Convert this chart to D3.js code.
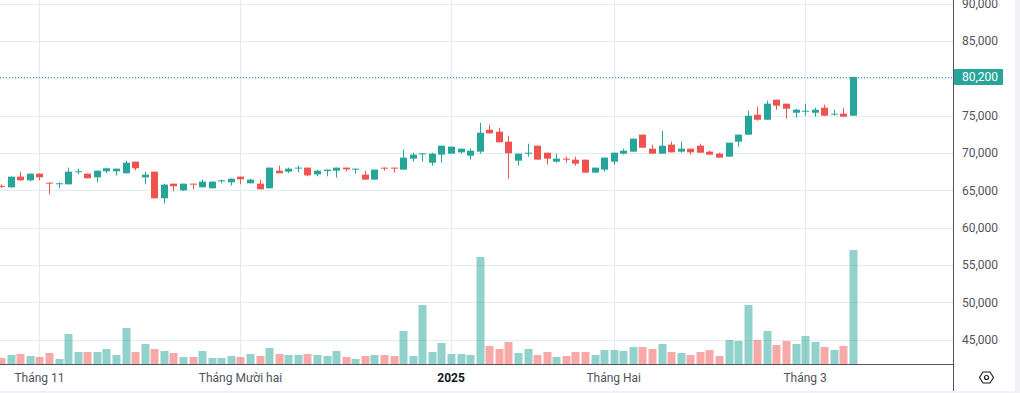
<!DOCTYPE html>
<html lang="vi">
<head>
<meta charset="UTF-8">
<title>Candlestick chart</title>
<script src="https://d3js.org/d3.v7.min.js"></script>
<style>
  html, body { margin: 0; padding: 0; background: #ffffff; }
  svg { display: block; font-family: Roboto, "Noto Sans", sans-serif; }
</style>
</head>
<body>
<script>
// trading days, Oct 28 2024 .. Mar 10 2025
const dates = [
  "2024-10-28","2024-10-29","2024-10-30","2024-10-31",
  "2024-11-01","2024-11-04","2024-11-05","2024-11-06","2024-11-07","2024-11-08",
  "2024-11-11","2024-11-12","2024-11-13","2024-11-14","2024-11-15",
  "2024-11-18","2024-11-19","2024-11-20","2024-11-21","2024-11-22",
  "2024-11-25","2024-11-26","2024-11-27","2024-11-28","2024-11-29",
  "2024-12-02","2024-12-03","2024-12-04","2024-12-05","2024-12-06",
  "2024-12-09","2024-12-10","2024-12-11","2024-12-12","2024-12-13",
  "2024-12-16","2024-12-17","2024-12-18","2024-12-19","2024-12-20",
  "2024-12-23","2024-12-24","2024-12-25","2024-12-26","2024-12-27",
  "2024-12-30","2024-12-31",
  "2025-01-02","2025-01-03","2025-01-06","2025-01-07","2025-01-08","2025-01-09","2025-01-10",
  "2025-01-13","2025-01-14","2025-01-15","2025-01-16","2025-01-17",
  "2025-01-20","2025-01-21","2025-01-22","2025-01-23","2025-01-24",
  "2025-02-03","2025-02-04","2025-02-05","2025-02-06","2025-02-07",
  "2025-02-10","2025-02-11","2025-02-12","2025-02-13","2025-02-14",
  "2025-02-17","2025-02-18","2025-02-19","2025-02-20","2025-02-21",
  "2025-02-24","2025-02-25","2025-02-26","2025-02-27","2025-02-28",
  "2025-03-03","2025-03-04","2025-03-05","2025-03-06","2025-03-07","2025-03-10"
];

const open = [
  65600,65400,66830,66340,67230,66030,65850,65800,67460,67230,
  66740,67550,67550,67280,68840,66740,67500,63930,65890,65000,
  65890,65400,65270,66200,66070,66830,65940,65890,65270,67630,
  67500,67950,68040,67140,67590,67630,68040,67810,67100,66430,
  68040,68040,67770,69240,69820,68700,69780,69910,70090,69640,
  70180,73120,72860,71520,68970,69960,70980,70040,68840,69240,
  69110,69110,67370,67770,68840,69910,70180,72460,70580,69910,
  71120,70180,70580,70980,70180,69910,69510,71520,72460,75130,
  74460,77140,76610,75400,75580,75400,76070,75180,75270,75000
];
const high = [
  65800,66850,67500,67250,67250,66050,66070,68040,67900,67230,
  67630,68040,67900,68970,68840,67500,67500,65890,65890,65890,
  65890,66430,66160,66430,66560,66830,66560,66430,68040,68300,
  68040,68300,68040,67770,67770,68040,68040,67900,67630,67770,
  68040,68040,70450,70040,69960,70040,70980,70850,70580,70580,
  74060,73790,73390,72320,69910,71250,70980,70040,69910,69510,
  69510,69110,68040,69380,70040,70580,71920,72460,71120,72990,
  71520,71520,70580,71250,70310,70040,71380,72460,75670,76200,
  77010,77140,76610,75940,76610,76070,76470,75800,76070,80200
];
const low = [
  65300,65380,66300,66200,66340,64460,65270,65800,67140,66610,
  66070,67320,67000,67280,67680,65800,63930,63260,64870,64910,
  65130,65400,65270,65940,65630,65800,65940,65130,65270,67280,
  67320,67410,66880,66880,66880,66700,67550,67230,66430,66430,
  67630,67370,67770,68840,68840,68300,68700,69910,69910,69110,
  69910,72630,71430,66560,68300,69510,69110,68440,68700,68700,
  68300,67370,67370,67500,68440,69780,70180,70710,69910,69910,
  70090,70040,69780,70040,69780,69380,69510,70850,72460,74330,
  74460,75800,74600,74730,75000,74870,75000,75000,74870,75000
];
const close = [
  65550,66830,66340,67230,66740,65940,65940,67500,67550,66610,
  67630,67950,67900,68700,67950,67100,63930,65760,65540,65890,
  65800,66160,66160,66340,66560,66470,66430,65130,68040,67280,
  67900,68040,67000,67630,67770,68040,67810,67900,66430,67770,
  67900,67950,69380,69780,69960,69910,70980,70850,70580,70310,
  72720,72630,71430,69960,69910,70040,69110,69240,69240,69110,
  68570,67370,68040,69380,70040,70310,71920,70710,69910,70980,
  70090,70580,70090,70040,69780,69380,71380,72460,75000,74460,
  76610,76340,75940,75800,75670,75800,75000,75270,74870,80200
];
// volume, millions of shares
const volume = [
  0.6,0.9,1.0,0.8,0.7,1.1,0.5,3.0,1.2,1.2,
  1.2,1.5,0.9,3.6,1.2,2.0,1.5,1.3,1.1,0.7,
  0.7,1.3,0.6,0.6,0.8,0.7,1.0,0.8,1.6,1.0,
  0.9,0.9,1.0,0.9,0.8,1.3,0.7,0.5,0.8,0.9,
  0.9,0.8,3.3,0.8,5.9,1.2,2.1,1.0,1.0,0.9,
  10.7,1.8,1.5,2.2,1.1,1.5,0.9,1.2,0.7,0.8,
  1.2,1.2,0.9,1.4,1.4,1.3,1.7,1.7,1.5,2.0,
  1.2,1.1,0.9,1.2,1.4,0.8,2.4,2.3,5.9,2.4,
  3.3,1.9,2.3,2.0,2.8,2.2,1.7,1.4,1.8,11.4
];

const priceTicks = [45000,50000,55000,60000,65000,70000,75000,80000,85000,90000];
const monthDates = ["2024-11-01","2024-12-02","2025-01-02","2025-02-03","2025-03-03"];
const monthLabels = ["Tháng 11","Tháng Mười hai","2025","Tháng Hai","Tháng 3"];
const lastPrice = 80200;

const width = 1020, height = 393;
const plotRight = 953, axisY = 364;
const up = "#26a69a", down = "#ef5350";
const textColor = "#50535e", gridColor = "#e4ebf1";

const data = dates.map((d, i) => ({
  date: d, o: open[i], h: high[i], l: low[i], c: close[i], v: volume[i]
}));

const svg = d3.select("body").append("svg")
  .attr("width", width)
  .attr("height", height);

const x = d3.scalePoint().domain(dates).range([1.2, 853]);
const y = d3.scaleLinear().domain([45000, 90000]).range([339.5, 3.8]);
const yVol = d3.scaleLinear().domain([0, 11.4]).range([axisY, 250]);

// outer panel borders
svg.append("rect").attr("x", 1015).attr("y", 0).attr("width", 5).attr("height", height).attr("fill", "#f0f2f5");
svg.append("rect").attr("x", 0).attr("y", 391).attr("width", width).attr("height", 2).attr("fill", "#f0f2f5");

const plot = svg.append("g");
plot.append("clipPath").attr("id", "clip")
  .append("rect").attr("x", 0).attr("y", 0).attr("width", plotRight).attr("height", axisY);

// grid
plot.selectAll(".hgrid")
  .data(priceTicks)
  .enter().append("line")
  .attr("x1", 0).attr("x2", plotRight)
  .attr("y1", d => Math.round(y(d)) + 0.5)
  .attr("y2", d => Math.round(y(d)) + 0.5)
  .attr("stroke", gridColor);

plot.selectAll(".vgrid")
  .data(monthDates)
  .enter().append("line")
  .attr("x1", d => Math.round(x(d)) + 0.5)
  .attr("x2", d => Math.round(x(d)) + 0.5)
  .attr("y1", 0).attr("y2", axisY)
  .attr("stroke", gridColor);

const marks = plot.append("g").attr("clip-path", "url(#clip)");

// volume
marks.selectAll(".vol")
  .data(data)
  .enter().append("rect")
  .attr("x", d => Math.round(x(d.date)) - 3.5)
  .attr("width", 8)
  .attr("y", d => yVol(d.v))
  .attr("height", d => axisY - yVol(d.v))
  .attr("fill", d => d.c >= d.o ? up : down)
  .attr("fill-opacity", 0.5);

// last price line
marks.append("line")
  .attr("x1", 0).attr("x2", plotRight)
  .attr("y1", Math.round(y(lastPrice)) + 0.5)
  .attr("y2", Math.round(y(lastPrice)) + 0.5)
  .attr("stroke", up)
  .attr("stroke-dasharray", "1,2");

// candles
const candles = marks.selectAll(".candle")
  .data(data)
  .enter().append("g");

candles.append("rect")
  .attr("x", d => Math.round(x(d.date)))
  .attr("width", 1)
  .attr("y", d => y(d.h))
  .attr("height", d => Math.max(1, y(d.l) - y(d.h)))
  .attr("fill", d => d.c >= d.o ? up : down);

candles.append("rect")
  .attr("x", d => Math.round(x(d.date)) - 3)
  .attr("width", 7)
  .attr("y", d => y(Math.max(d.o, d.c)))
  .attr("height", d => Math.max(1, Math.abs(y(d.o) - y(d.c))))
  .attr("fill", d => d.c >= d.o ? up : down);

// axes lines
svg.append("line")
  .attr("x1", 0).attr("x2", plotRight)
  .attr("y1", axisY + 0.5).attr("y2", axisY + 0.5)
  .attr("stroke", "#50535e");
svg.append("line")
  .attr("x1", plotRight + 0.5).attr("x2", plotRight + 0.5)
  .attr("y1", 0).attr("y2", 391)
  .attr("stroke", "#50535e");

// price labels
svg.selectAll(".ptick")
  .data(priceTicks)
  .enter().append("text")
  .attr("x", 962)
  .attr("y", d => y(d))
  .attr("dy", "0.36em")
  .attr("font-size", 12)
  .attr("fill", textColor)
  .text(d => d3.format(",")(d));

// last price tag
const tagY = Math.round(y(lastPrice));
svg.append("rect")
  .attr("x", plotRight + 1).attr("y", tagY - 8)
  .attr("width", 49).attr("height", 16)
  .attr("rx", 1)
  .attr("fill", up);
svg.append("text")
  .attr("x", 962).attr("y", tagY)
  .attr("dy", "0.36em")
  .attr("font-size", 12)
  .attr("fill", "#ffffff")
  .text(d3.format(",")(lastPrice));

// month labels
svg.selectAll(".mtick")
  .data(monthDates)
  .enter().append("text")
  .attr("x", d => x(d))
  .attr("y", 382)
  .attr("text-anchor", "middle")
  .attr("font-size", 12)
  .attr("font-weight", (d, i) => monthLabels[i] === "2025" ? "bold" : "normal")
  .attr("fill", (d, i) => monthLabels[i] === "2025" ? "#131722" : textColor)
  .text((d, i) => monthLabels[i]);

// settings icon
const icon = svg.append("g").attr("transform", "translate(986.5,377.5)")
  .attr("fill", "none").attr("stroke", "#131722").attr("stroke-width", 1.1);
icon.append("path").attr("d", "M-7,0 L-3.5,-5.5 L3.5,-5.5 L7,0 L3.5,5.5 L-3.5,5.5 Z");
icon.append("circle").attr("r", 2);
</script>
</body>
</html>
